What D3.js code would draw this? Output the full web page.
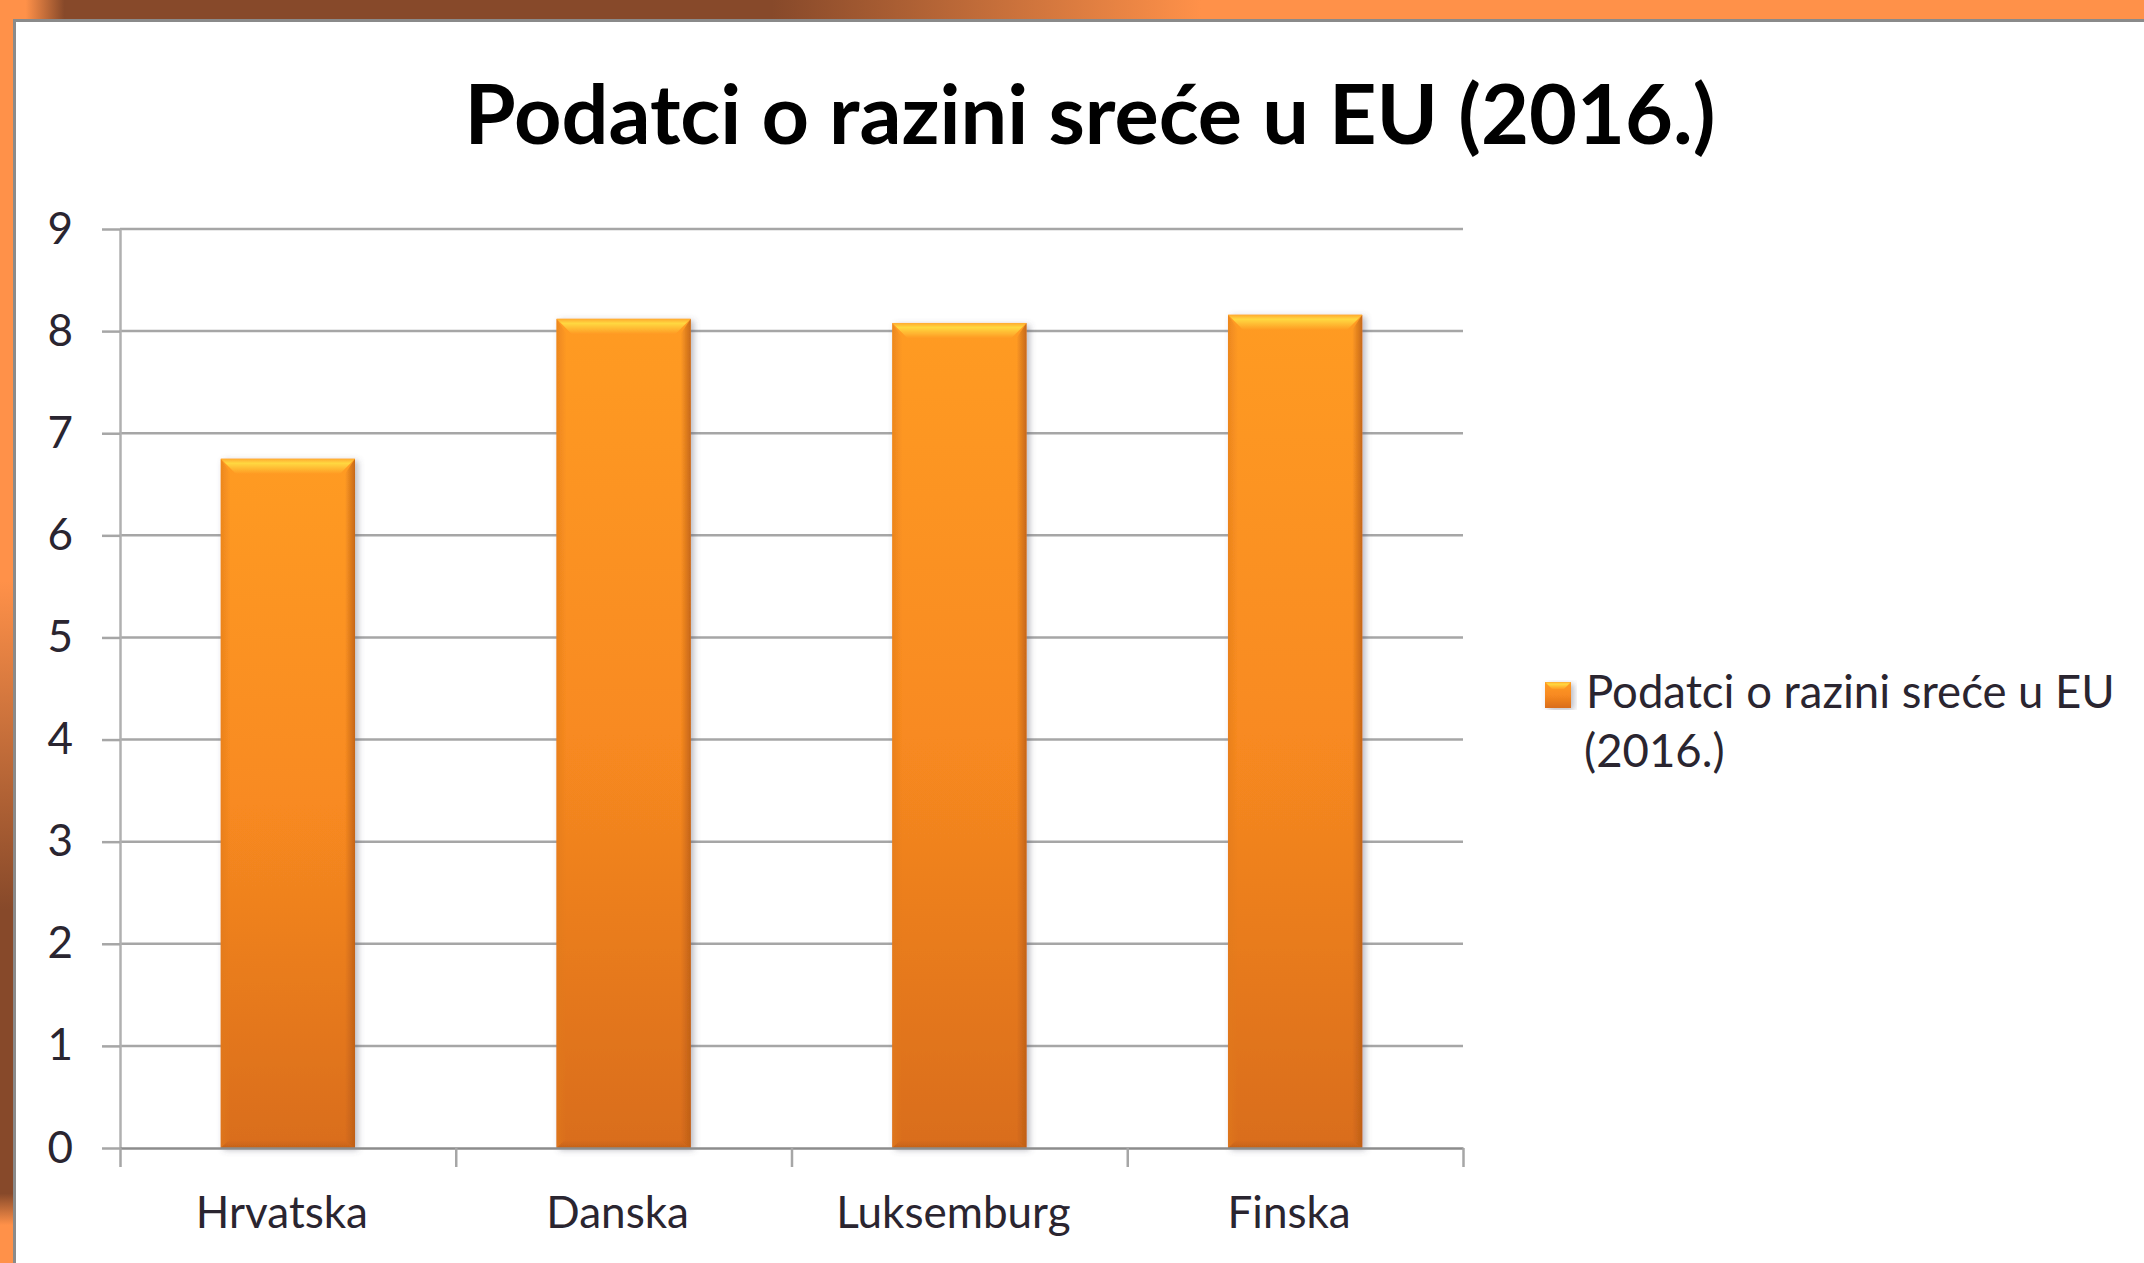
<!DOCTYPE html>
<html>
<head>
<meta charset="utf-8">
<script src="https://cdn.jsdelivr.net/npm/d3@7"></script>
<style>
  body { margin: 0; overflow: hidden; background: #fff; }
  text { font-family: Lato, "Open Sans", sans-serif; }
</style>
</head>
<body>
<div id="chart"></div>
<script>
// Data
var categories = ["Hrvatska", "Danska", "Luksemburg", "Finska"];
var values = [6.75, 8.12, 8.08, 8.16];
var yTicks = [0, 1, 2, 3, 4, 5, 6, 7, 8, 9];
var chartTitle = "Podatci o razini sreće u EU (2016.)";
var legendLines = ["Podatci o razini sreće u EU", "(2016.)"];

var width = 2144, height = 1263;
var plot = { left: 120, right: 1463, top: 229, bottom: 1148 };

var svg = d3.select("#chart").append("svg")
    .attr("width", width)
    .attr("height", height);

var defs = svg.append("defs");

// Gradients for the frame
function linGrad(id, x2, y2, stops) {
    var g = defs.append("linearGradient").attr("id", id)
        .attr("x1", 0).attr("y1", 0).attr("x2", x2).attr("y2", y2);
    stops.forEach(function (s) {
        g.append("stop").attr("offset", s[0]).attr("stop-color", s[1])
            .attr("stop-opacity", s[2] === undefined ? 1 : s[2]);
    });
}
var orange = "#ff9149", brown = "#87492a";
linGrad("topBand", 1, 0, [[0, orange], [0.012, orange], [0.03, brown], [0.36, brown], [0.56, orange], [1, orange]]);
linGrad("leftBand", 0, 1, [[0, orange], [0.46, orange], [0.72, brown], [0.945, brown], [0.97, orange], [1, orange]]);

// Bar shading
linGrad("barBody", 0, 1, [[0, "#ff9b24"], [0.5, "#f88a20"], [1, "#d96d1c"]]);
linGrad("barTop", 0, 1, [[0, "#ffaa30"], [0.3, "#ffd840"], [1, "#ff9b24"]]);
linGrad("barLeft", 1, 0, [[0, "#e07a1a", 0.6], [1, "#e07a1a", 0]]);
linGrad("barRight", 1, 0, [[0, "#b85c16", 0], [1, "#b85c16", 0.8]]);
linGrad("barBottom", 0, 1, [[0, "#b85a16", 0], [1, "#b85a16", 0.6]]);

var shadow = defs.append("filter").attr("id", "shadow")
    .attr("x", "-20%").attr("y", "-5%").attr("width", "140%").attr("height", "110%");
shadow.append("feDropShadow").attr("dx", 3).attr("dy", 2).attr("stdDeviation", 3)
    .attr("flood-color", "#556").attr("flood-opacity", 0.4);

// Background and frame
svg.append("rect").attr("width", width).attr("height", height).attr("fill", "#fff");
svg.append("rect").attr("x", 0).attr("y", 0).attr("width", width).attr("height", 19).attr("fill", "url(#topBand)");
svg.append("rect").attr("x", 0).attr("y", 0).attr("width", 13).attr("height", height).attr("fill", "url(#leftBand)");
svg.append("line").attr("x1", 13).attr("x2", width).attr("y1", 20.5).attr("y2", 20.5)
    .attr("stroke", "#8a8a8a").attr("stroke-width", 3);
svg.append("line").attr("x1", 14.5).attr("x2", 14.5).attr("y1", 19).attr("y2", height)
    .attr("stroke", "#8a8a8a").attr("stroke-width", 3);

// Scales
var y = d3.scaleLinear().domain([0, 9]).range([plot.bottom, plot.top]);
var x = d3.scaleBand().domain(categories).range([plot.left, plot.right])
    .paddingInner(0.6).paddingOuter(0.3);
var xEdge = d3.scaleLinear().domain([0, categories.length]).range([plot.left, plot.right]);

// Gridlines
svg.append("g").selectAll("line")
    .data(yTicks.filter(function (d) { return d > 0; }))
    .enter().append("line")
    .attr("x1", plot.left).attr("x2", plot.right)
    .attr("y1", function (d) { return y(d); }).attr("y2", function (d) { return y(d); })
    .attr("stroke", "#a6a6a6").attr("stroke-width", 2.5);

// Bars with bevel
var bevel = 15;
var bars = svg.append("g").selectAll("g")
    .data(categories.map(function (c, i) { return { name: c, value: values[i] }; }))
    .enter().append("g")
    .attr("filter", "url(#shadow)");

bars.append("rect")
    .attr("x", function (d) { return x(d.name); })
    .attr("y", function (d) { return y(d.value); })
    .attr("width", x.bandwidth())
    .attr("height", function (d) { return y(0) - y(d.value); })
    .attr("fill", "url(#barBody)");

function pts(arr) { return arr.map(function (p) { return p.join(","); }).join(" "); }

bars.append("polygon").attr("fill", "url(#barLeft)")
    .attr("points", function (d) {
        var x0 = x(d.name), y0 = y(d.value), y1 = y(0);
        return pts([[x0, y0], [x0 + 10, y0 + bevel], [x0 + 10, y1 - 8], [x0, y1]]);
    });
bars.append("polygon").attr("fill", "url(#barRight)")
    .attr("points", function (d) {
        var x1 = x(d.name) + x.bandwidth(), y0 = y(d.value), y1 = y(0);
        return pts([[x1, y0], [x1, y1], [x1 - 10, y1 - 8], [x1 - 10, y0 + bevel]]);
    });
bars.append("polygon").attr("fill", "url(#barBottom)")
    .attr("points", function (d) {
        var x0 = x(d.name), x1 = x0 + x.bandwidth(), y1 = y(0);
        return pts([[x0, y1], [x0 + 8, y1 - 8], [x1 - 8, y1 - 8], [x1, y1]]);
    });
bars.append("polygon").attr("fill", "url(#barTop)")
    .attr("points", function (d) {
        var x0 = x(d.name), x1 = x0 + x.bandwidth(), y0 = y(d.value);
        return pts([[x0, y0], [x1, y0], [x1 - bevel, y0 + bevel], [x0 + bevel, y0 + bevel]]);
    });

// Y axis
var yAxis = d3.axisLeft(y).tickValues(yTicks).tickSize(18).tickSizeOuter(0).tickPadding(29);
var gy = svg.append("g").attr("transform", "translate(" + plot.left + ",0)").call(yAxis);
gy.select(".domain").attr("stroke", "#b0b0b0").attr("stroke-width", 2.5);
gy.selectAll(".tick line").attr("stroke", "#a6a6a6").attr("stroke-width", 2.5);
gy.selectAll(".tick text").attr("fill", "#2a2530").style("font-size", "44px")
    .style("font-family", "Lato, sans-serif");

// X axis: boundary ticks
var edgeAxis = d3.axisBottom(xEdge).tickValues(d3.range(categories.length + 1))
    .tickSize(19).tickSizeOuter(0).tickFormat("");
var gx = svg.append("g").attr("transform", "translate(0," + plot.bottom + ")").call(edgeAxis);
gx.select(".domain").attr("stroke", "#8c8c8c").attr("stroke-width", 2.5);
gx.selectAll(".tick line").attr("stroke", "#a6a6a6").attr("stroke-width", 2.5);

// X axis: category labels
var labelAxis = d3.axisBottom(d3.scaleBand().domain(categories).range([plot.left, plot.right]))
    .tickSize(0).tickPadding(0);
var gl = svg.append("g").attr("transform", "translate(-6," + plot.bottom + ")").call(labelAxis);
gl.select(".domain").remove();
gl.selectAll(".tick text").attr("y", 80).attr("dy", 0).attr("fill", "#2a2530")
    .style("font-size", "44px").style("font-family", "Lato, sans-serif");

// Fit a text element to a given width
function fitWidth(sel, target) {
    var fs = parseFloat(sel.style("font-size"));
    var w = sel.node().getComputedTextLength();
    sel.style("font-size", (fs * target / w) + "px");
}

// Title
var title = svg.append("text")
    .attr("x", 1090).attr("y", 144)
    .attr("text-anchor", "middle")
    .style("font-size", "86px").style("font-weight", "bold").attr("fill", "#000")
    .text(chartTitle);
fitWidth(title, 1251);

// Legend
var legend = svg.append("g").attr("transform", "translate(1545,682)");
legend.append("rect").attr("width", 26).attr("height", 26).attr("fill", "url(#barBody)")
    .attr("filter", "url(#shadow)");
legend.append("polygon").attr("points", "0,0 26,0 19,7 7,7").attr("fill", "url(#barTop)");
var l1 = legend.append("text").attr("x", 41).attr("y", 26).attr("fill", "#2a2530")
    .style("font-size", "44px").text(legendLines[0]);
fitWidth(l1, 529);
legend.append("text").attr("x", 39).attr("y", 85).attr("fill", "#2a2530")
    .style("font-size", l1.style("font-size")).text(legendLines[1]);
</script>
</body>
</html>
